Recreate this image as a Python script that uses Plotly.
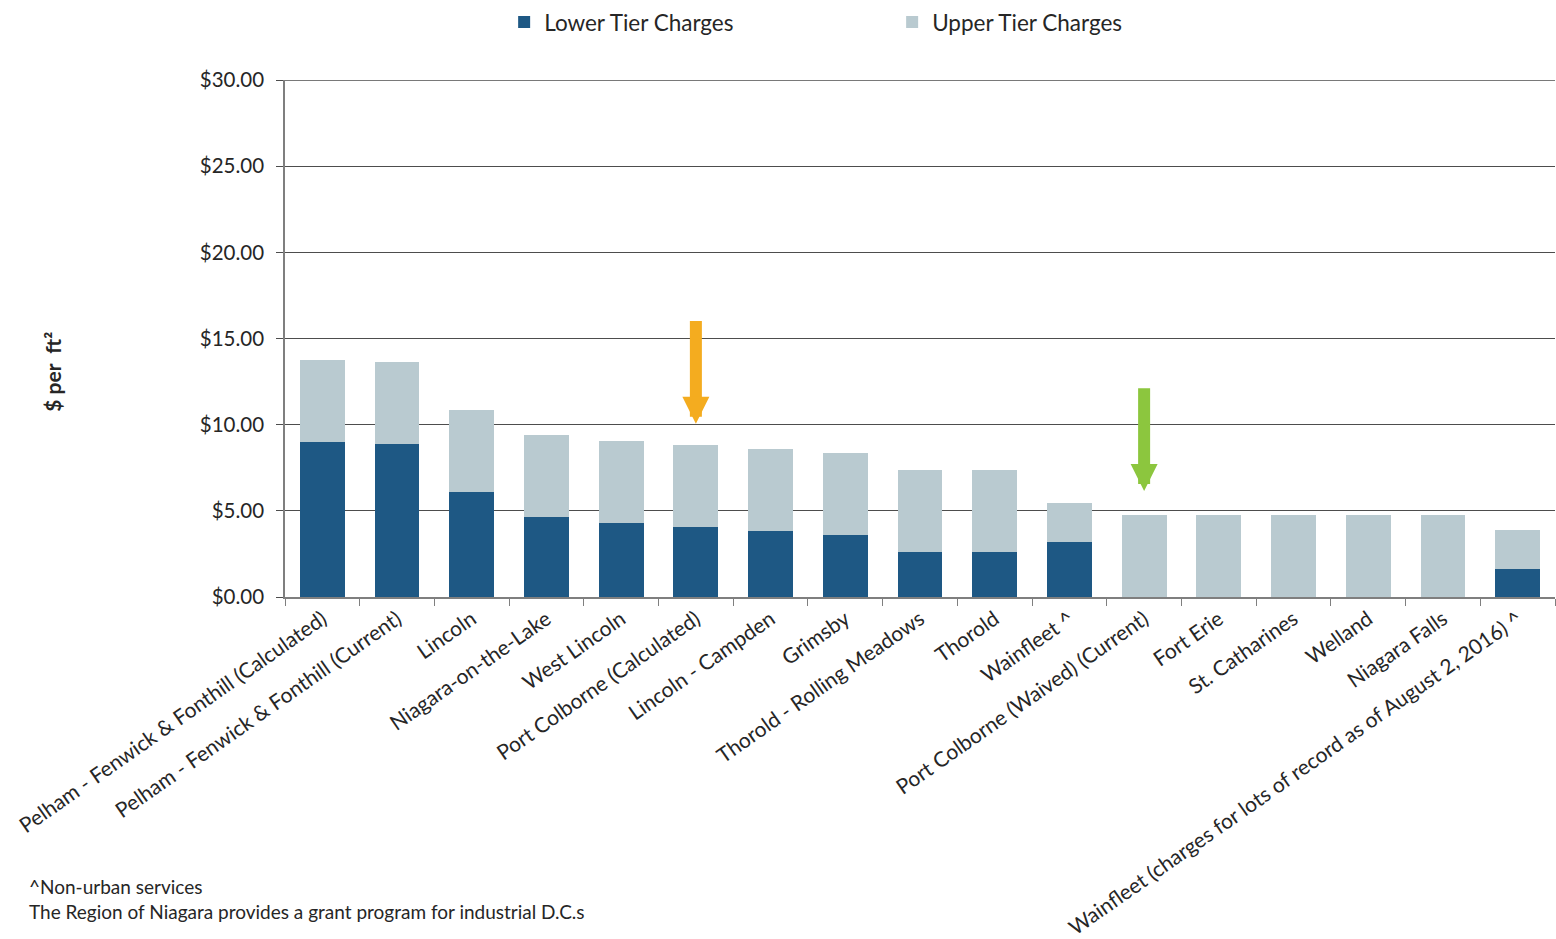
import plotly.graph_objects as go

# Industrial development charges by municipality, $ per square foot
municipalities = [
    "Pelham - Fenwick & Fonthill (Calculated)",
    "Pelham - Fenwick & Fonthill (Current)",
    "Lincoln",
    "Niagara-on-the-Lake",
    "West Lincoln",
    "Port Colborne (Calculated)",
    "Lincoln - Campden",
    "Grimsby",
    "Thorold - Rolling Meadows",
    "Thorold",
    "Wainfleet ^",
    "Port Colborne (Waived) (Current)",
    "Fort Erie",
    "St. Catharines",
    "Welland",
    "Niagara Falls",
    "Wainfleet (charges for lots of record as of August 2, 2016) ^",
]
lower_tier = [9.00, 8.90, 6.08, 4.66, 4.29, 4.06, 3.85, 3.59, 2.63, 2.63, 3.18,
              0.00, 0.00, 0.00, 0.00, 0.00, 1.62]
upper_tier = [4.75, 4.75, 4.75, 4.75, 4.75, 4.75, 4.75, 4.75, 4.75, 4.75, 2.28,
              4.75, 4.75, 4.75, 4.75, 4.75, 2.28]

y_max = 30
y_ticks = [0, 5, 10, 15, 20, 25, 30]
y_tick_text = ["$%.2f" % v for v in y_ticks]

# Callout arrows: (category, tail value, tip value, colour)
callouts = [
    ("Port Colborne (Calculated)", 16.1, 10.05, "#F4AC1F"),
    ("Port Colborne (Waived) (Current)", 12.2, 6.15, "#8CC63E"),
]

FONT = "Lato, 'Open Sans', sans-serif"
TEXT = "#262626"
GRID = "#4d4d4d"

fig = go.Figure()
fig.add_trace(go.Bar(
    name="Lower Tier Charges", x=municipalities, y=lower_tier,
    marker=dict(color="#1E5884", line=dict(width=0)),
))
fig.add_trace(go.Bar(
    name="Upper Tier Charges", x=municipalities, y=upper_tier,
    marker=dict(color="#B9CAD0", line=dict(width=0)),
))

annotations = []
for cat, tail, tip, col in callouts:
    annotations.append(dict(
        x=cat, y=tip, xref="x", yref="y",
        ax=cat, ay=tail, axref="x", ayref="y",
        text="", showarrow=True, arrowhead=2, arrowsize=0.45,
        arrowwidth=12, arrowcolor=col, standoff=0, startstandoff=0,
    ))

annotations.append(dict(
    text="<b>$ per  ft²</b>", textangle=-90, showarrow=False,
    xref="paper", yref="paper", x=-0.183, y=0.435,
    xanchor="center", yanchor="middle",
    font=dict(family=FONT, size=21, color=TEXT),
))
annotations.append(dict(
    text="^Non-urban services<br>The Region of Niagara provides a grant program for industrial D.C.s",
    showarrow=False, align="left",
    xref="paper", yref="paper", x=-0.2035, y=-0.585,
    xanchor="left", yanchor="middle",
    font=dict(family=FONT, size=19, color=TEXT),
))

# Top gridline sits on the upper edge of the plot area
shapes = [dict(
    type="line", xref="paper", x0=0, x1=1, yref="y", y0=y_max, y1=y_max,
    line=dict(color=GRID, width=1.3), layer="below",
)]

fig.update_layout(
    barmode="stack",
    bargap=0.4,
    width=1556, height=939,
    margin=dict(l=285, r=1, t=80, b=342),
    paper_bgcolor="white", plot_bgcolor="white",
    font=dict(family=FONT, size=19, color=TEXT),
    showlegend=True,
    legend=dict(
        orientation="h", xref="container", yref="container",
        x=0.324, y=0.999, xanchor="left", yanchor="top",
        traceorder="normal",
        font=dict(family=FONT, size=22.5, color=TEXT),
        entrywidth=343, entrywidthmode="pixels",
        itemsizing="constant",
    ),
    annotations=annotations,
    shapes=shapes,
)
fig.update_xaxes(
    type="category", tickangle=-35, showgrid=False,
    showline=True, linecolor="#7f7f7f", linewidth=1.5,
    ticks="outside", tickson="boundaries", ticklen=7, tickcolor="#7f7f7f",
    tickfont=dict(family=FONT, size=21, color=TEXT),
)
fig.update_yaxes(
    range=[0, y_max], tickvals=y_ticks, ticktext=y_tick_text,
    showgrid=True, gridcolor=GRID, gridwidth=1.3,
    showline=True, linecolor="#7f7f7f", linewidth=1.5,
    ticks="outside", ticklen=7, tickcolor=GRID,
    ticklabelstandoff=8,
    zeroline=False,
    tickfont=dict(family=FONT, size=20.5, color=TEXT),
)

fig.write_html("out.html")
